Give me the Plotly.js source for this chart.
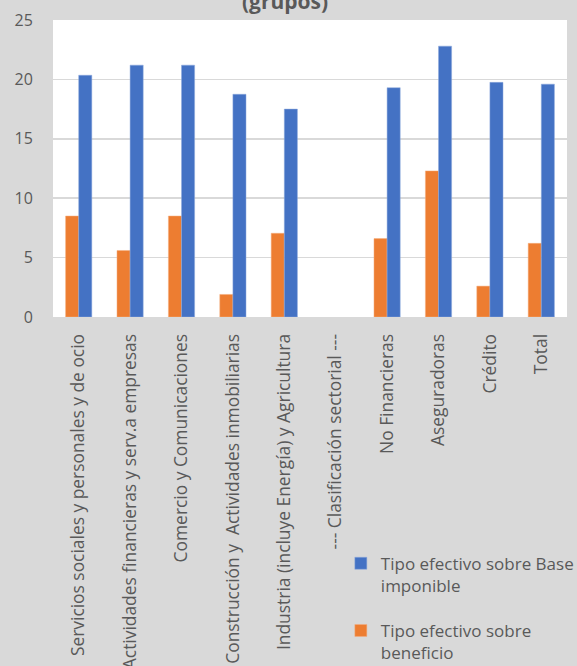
<!DOCTYPE html>
<html>
<head>
<meta charset="utf-8">
<script src="https://cdn.plot.ly/plotly-3.0.1.min.js"></script>
<style>html,body{margin:0;padding:0;background:#d9d9d9;}#chart{width:577px;height:666px;}</style>
</head>
<body>
<div id="chart"></div>
<script>
var categories = [
  "Servicios sociales y personales y de ocio",
  "Actividades financieras y serv.a empresas",
  "Comercio y Comunicaciones",
  "Construcción y  Actividades inmobiliarias",
  "Industria (incluye Energía) y Agricultura",
  "--- Clasificación sectorial ---",
  "No Financieras",
  "Aseguradoras",
  "Crédito",
  "Total"
];
var beneficio = [8.5, 5.6, 8.5, 1.9, 7.05, null, 6.6, 12.3, 2.6, 6.2];
var baseImponible = [20.35, 21.2, 21.2, 18.75, 17.5, null, 19.3, 22.8, 19.75, 19.6];
var yTicks = [0, 5, 10, 15, 20, 25];

var font = "'Open Sans', 'Noto Sans', sans-serif";
var txt = "#595959";

var traces = [
  {type: "bar", name: "Tipo efectivo sobre<br>beneficio", x: categories, y: beneficio,
   legendgroup: "b", legendrank: 2,
   marker: {color: "#ed7d31", line: {color: "#f4b183", width: 0.5}}},
  {type: "bar", name: "Tipo efectivo sobre Base<br>imponible", x: categories, y: baseImponible,
   legendgroup: "a", legendrank: 1,
   marker: {color: "#4472c4", line: {color: "#8faadc", width: 0.5}}}
];

var layout = {
  width: 577, height: 666,
  paper_bgcolor: "#d9d9d9",
  plot_bgcolor: "#ffffff",
  margin: {l: 53, r: 10, t: 20, b: 349, autoexpand: false},
  barmode: "group",
  bargap: 0.49,
  bargroupgap: 0,
  showlegend: true,
  title: {text: "<b>(grupos)</b>", font: {family: font, size: 21, color: txt},
          x: 0.494, xanchor: "center", y: 0.997, yref: "container", yanchor: "middle"},
  xaxis: {
    type: "category",
    tickangle: -90,
    automargin: false,
    ticks: "outside", ticklen: 9, tickcolor: "rgba(0,0,0,0)",
    tickfont: {family: font, size: 17.4, color: txt},
    showline: false, showgrid: false
  },
  yaxis: {
    range: [0, 25],
    tickvals: yTicks,
    automargin: false,
    ticks: "outside", ticklen: 16, tickcolor: "rgba(0,0,0,0)",
    tickfont: {family: font, size: 16, color: txt},
    showgrid: true, gridcolor: "#d9d9d9", gridwidth: 1.5,
    zeroline: false, showline: false
  },
  legend: {
    traceorder: "grouped",
    x: 0.56, xanchor: "left",
    y: -0.77, yanchor: "top",
    valign: "top",
    bgcolor: "rgba(0,0,0,0)",
    font: {family: font, size: 17, color: txt},
    tracegroupgap: 20,
    itemwidth: 30
  }
};

Plotly.newPlot("chart", traces, layout, {displayModeBar: false, staticPlot: true});
</script>
</body>
</html>
